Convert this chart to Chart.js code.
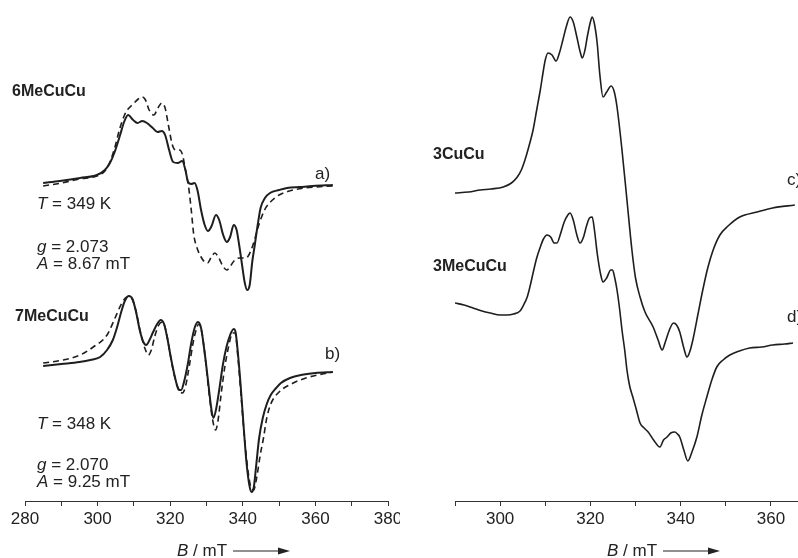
<!DOCTYPE html>
<html>
<head>
<meta charset="utf-8">
<script src="https://cdn.jsdelivr.net/npm/chart.js@4.4.0/dist/chart.umd.min.js"></script>
<style>
  html, body { margin: 0; padding: 0; background: #fff; }
  #wrap { position: relative; width: 798px; height: 558px; overflow: hidden;
          font-family: "Liberation Sans", Arial, sans-serif; color: #222; }
  canvas { position: absolute; top: 0; }
  .lbl { position: absolute; font-size: 17px; line-height: 17px; white-space: nowrap; }
  .name { position: absolute; font-size: 16px; line-height: 16px; font-weight: bold; white-space: nowrap; }
  svg { position: absolute; }
</style>
</head>
<body>
<div id="wrap">
  <canvas id="left" width="400" height="558" style="left:0"></canvas>
  <canvas id="right" width="398" height="558" style="left:400px"></canvas>

  <div class="name" style="left:12px;top:83px">6MeCuCu</div>
  <div class="lbl" style="left:315px;top:165px">a)</div>
  <div class="lbl" style="left:37px;top:195px"><i>T</i> = 349 K</div>
  <div class="lbl" style="left:37px;top:238px"><i>g</i> = 2.073</div>
  <div class="lbl" style="left:37px;top:255px"><i>A</i> = 8.67 mT</div>

  <div class="name" style="left:15px;top:308px">7MeCuCu</div>
  <div class="lbl" style="left:325px;top:345px">b)</div>
  <div class="lbl" style="left:37px;top:415px"><i>T</i> = 348 K</div>
  <div class="lbl" style="left:37px;top:456px"><i>g</i> = 2.070</div>
  <div class="lbl" style="left:37px;top:473px"><i>A</i> = 9.25 mT</div>

  <div class="name" style="left:433px;top:146px">3CuCu</div>
  <div class="name" style="left:433px;top:258px">3MeCuCu</div>
  <div class="lbl" style="left:787px;top:171px">c)</div>
  <div class="lbl" style="left:787px;top:308px">d)</div>

  <div class="lbl" style="left:177px;top:542px"><i>B</i> / mT</div>
  <svg style="left:233px;top:546px" width="57" height="10"><line x1="0" y1="5" x2="48" y2="5" stroke="#222" stroke-width="1.2"/><polygon points="45,1.5 57,5 45,8.5" fill="#222"/></svg>
  <div class="lbl" style="left:607px;top:542px"><i>B</i> / mT</div>
  <svg style="left:663px;top:546px" width="57" height="10"><line x1="0" y1="5" x2="48" y2="5" stroke="#222" stroke-width="1.2"/><polygon points="45,1.5 57,5 45,8.5" fill="#222"/></svg>
</div>

<script>
// a) 6MeCuCu, 349 K - experiment (solid) and simulation (dashed)
const fieldA = [285.0, 289.6, 295.2, 299.8, 302.0, 303.4, 304.7, 306.2, 307.3, 308.4, 309.8, 311.0, 312.3, 313.6, 315.2, 316.5, 317.7, 318.6, 319.7, 320.8, 322.1, 323.3, 324.2, 324.9, 325.8, 326.7, 327.5, 328.5, 329.5, 330.4, 331.4, 332.6, 333.5, 334.6, 335.6, 336.5, 337.5, 338.3, 339.0, 339.8, 340.5, 341.2, 341.9, 342.6, 343.3, 344.1, 344.9, 346.1, 347.5, 350.0, 352.2, 355.8, 359.3, 364.8];
const expA = [318, 320, 323, 326, 331, 338, 349, 366, 379, 386, 381, 378, 380, 378, 373, 369, 370, 366, 351, 339, 338, 340, 331, 319, 317, 318, 311, 291, 276, 270, 275, 286, 281, 266, 259, 264, 276, 271, 256, 236, 219, 211, 216, 239, 256, 276, 293, 303, 308, 311, 313, 314, 315, 316];
const fieldAsim = [285.0, 290.0, 295.0, 299.8, 302.0, 303.4, 304.7, 306.0, 307.3, 308.4, 309.8, 311.2, 312.3, 313.2, 314.2, 315.5, 316.6, 317.7, 318.6, 319.5, 320.6, 321.5, 322.6, 323.4, 324.2, 325.0, 325.8, 326.5, 327.4, 328.5, 329.5, 330.3, 331.2, 332.3, 333.4, 334.5, 335.6, 336.6, 337.8, 339.1, 340.4, 341.5, 342.8, 344.4, 346.0, 347.6, 350.0, 352.8, 357.0, 360.0, 364.8];
const simA = [315, 318, 322, 325, 330, 339, 353, 371, 385, 392, 397, 402, 404, 401, 391, 386, 393, 398, 393, 376, 356, 351, 351, 346, 331, 316, 291, 266, 253, 244, 239, 238, 243, 248, 243, 235, 231, 235, 241, 243, 243, 245, 256, 276, 291, 299, 306, 310, 313, 314, 315];

// b) 7MeCuCu, 348 K
const fieldB = [285.0, 290.0, 295.0, 298.0, 300.7, 302.6, 304.2, 305.3, 306.5, 307.5, 308.6, 309.6, 310.6, 311.6, 312.6, 313.4, 314.3, 315.3, 316.4, 317.4, 318.3, 319.2, 320.2, 321.3, 322.4, 323.0, 323.8, 324.8, 325.8, 326.8, 327.7, 328.5, 329.4, 330.4, 331.3, 331.9, 332.6, 333.5, 334.5, 335.5, 336.5, 337.5, 338.0, 338.7, 339.4, 340.2, 341.0, 341.8, 342.4, 343.0, 343.7, 344.5, 345.5, 346.6, 347.7, 349.2, 350.5, 353.0, 356.0, 360.0, 364.8];
const expB = [135, 137, 139, 141, 144, 151, 161, 173, 189, 200, 205, 202, 189, 171, 159, 156, 161, 169, 177, 181, 177, 163, 143, 124, 111, 111, 119, 136, 158, 174, 179, 173, 151, 121, 93, 83, 91, 111, 136, 154, 166, 172, 169, 146, 116, 76, 39, 16, 9, 13, 36, 63, 83, 97, 106, 113, 118, 123, 126, 128, 129];
const fieldBsim = [285.0, 290.5, 295.2, 298.8, 302.6, 304.8, 306.7, 308.1, 309.3, 310.5, 311.8, 313.0, 314.0, 314.8, 315.7, 316.7, 317.9, 318.8, 319.8, 320.8, 322.0, 323.4, 324.3, 325.3, 326.3, 327.3, 327.9, 328.7, 329.6, 330.6, 331.6, 332.5, 333.2, 334.0, 335.0, 336.0, 337.2, 337.9, 338.6, 339.4, 340.4, 341.4, 342.3, 343.0, 343.8, 344.8, 345.7, 346.6, 347.7, 350.0, 353.9, 358.3, 364.8];
const simB = [138, 141, 146, 154, 166, 183, 198, 204, 203, 191, 169, 153, 146, 151, 164, 175, 179, 171, 151, 131, 115, 108, 116, 136, 158, 173, 177, 169, 145, 111, 83, 71, 81, 106, 133, 153, 168, 168, 146, 111, 66, 31, 13, 11, 23, 46, 63, 83, 97, 109, 118, 124, 129];

// c) 3CuCu
const fieldC = [290.0, 293.0, 295.6, 298.0, 300.7, 302.5, 303.8, 304.7, 305.5, 306.4, 307.3, 308.1, 308.9, 309.6, 310.0, 310.6, 311.5, 312.4, 313.2, 313.9, 314.7, 315.5, 316.2, 317.0, 317.8, 318.2, 318.8, 319.3, 320.0, 320.4, 320.9, 321.5, 322.1, 322.8, 323.6, 324.6, 325.3, 325.9, 327.0, 328.1, 329.2, 330.0, 331.0, 332.1, 333.9, 335.0, 335.9, 336.6, 337.5, 338.4, 339.1, 339.8, 340.7, 341.4, 342.0, 342.7, 343.8, 344.9, 346.0, 347.2, 348.7, 350.5, 353.1, 356.9, 360.4, 365.3];
const expC = [308, 309, 311, 312, 314, 318, 324, 331, 341, 355, 371, 391, 411, 431, 441, 448, 446, 440, 449, 461, 475, 484, 479, 464, 448, 443, 451, 464, 479, 484, 477, 458, 426, 404, 409, 415, 409, 394, 351, 301, 251, 223, 204, 189, 174, 161, 151, 159, 171, 178, 176, 169, 153, 144, 149, 161, 186, 211, 233, 251, 266, 275, 284, 289, 293, 296];

// d) 3MeCuCu
const fieldD = [290.0, 292.0, 294.0, 296.0, 297.8, 300.0, 301.5, 303.0, 304.4, 305.2, 306.0, 306.7, 307.3, 308.1, 308.9, 309.6, 310.4, 311.2, 312.0, 312.6, 313.3, 314.2, 315.0, 315.5, 316.2, 317.0, 317.7, 318.4, 319.2, 319.8, 320.4, 320.9, 321.5, 322.3, 322.8, 323.6, 324.5, 324.9, 325.4, 325.9, 326.5, 327.0, 327.6, 328.1, 328.7, 329.4, 330.2, 331.0, 331.9, 332.8, 334.0, 335.4, 336.2, 337.0, 337.8, 338.7, 339.3, 339.8, 340.7, 341.6, 342.5, 343.6, 344.7, 345.8, 346.9, 348.0, 349.4, 350.9, 353.0, 355.3, 358.0, 360.4, 363.0, 364.9];
const expD = [198, 196, 193, 190, 188, 186, 186, 187, 190, 196, 204, 216, 228, 243, 254, 262, 266, 264, 258, 258, 266, 279, 286, 288, 281, 266, 258, 263, 276, 283, 284, 271, 248, 226, 219, 223, 231, 231, 223, 211, 191, 171, 151, 131, 115, 104, 91, 78, 73, 69, 61, 54, 61, 64, 68, 69, 67, 64, 51, 40, 49, 64, 86, 104, 121, 134, 141, 146, 150, 153, 154, 156, 157, 158];

const ink = '#1e1e1e';

function pts(xs, ys) {
    return xs.map((x, i) => ({ x: x, y: ys[i] }));
}

function curve(xs, ys, width, dashed) {
    return {
        data: pts(xs, ys),
        borderColor: ink,
        borderWidth: width,
        borderDash: dashed ? [6, 4] : [],
        pointRadius: 0,
        fill: false,
        cubicInterpolationMode: 'monotone'
    };
}

function panel(id, xmin, xmax, padLeft, padRight, sets) {
    return new Chart(document.getElementById(id), {
        type: 'line',
        data: { datasets: sets },
        options: {
            responsive: false,
            animation: false,
            layout: { padding: { left: padLeft, right: padRight, top: 0, bottom: 0 } },
            plugins: { legend: { display: false }, tooltip: { enabled: false } },
            scales: {
                x: {
                    type: 'linear',
                    min: xmin,
                    max: xmax,
                    afterFit: function (s) {
                        s.height = 57;
                        s.paddingLeft = 0;
                        s.paddingRight = 0;
                    },
                    grid: { drawOnChartArea: false, tickLength: 5, tickColor: '#333', tickWidth: 1 },
                    border: { color: '#333', width: 1 },
                    ticks: {
                        stepSize: 10,
                        includeBounds: false,
                        autoSkip: false,
                        maxRotation: 0,
                        padding: 3,
                        color: '#222',
                        font: { family: 'Liberation Sans', size: 17 },
                        callback: v => (v % 20 === 0 ? v : '')
                    }
                },
                y: { display: false, min: 0, max: 501 }
            }
        }
    });
}

panel('left', 280, 380, 25, 12, [
    curve(fieldA, expA, 2, false),
    curve(fieldAsim, simA, 1.6, true),
    curve(fieldB, expB, 2, false),
    curve(fieldBsim, simB, 1.6, true)
]);

panel('right', 290, 366, 55, 0, [
    curve(fieldC, expC, 1.6, false),
    curve(fieldD, expD, 1.6, false)
]);
</script>
</body>
</html>
